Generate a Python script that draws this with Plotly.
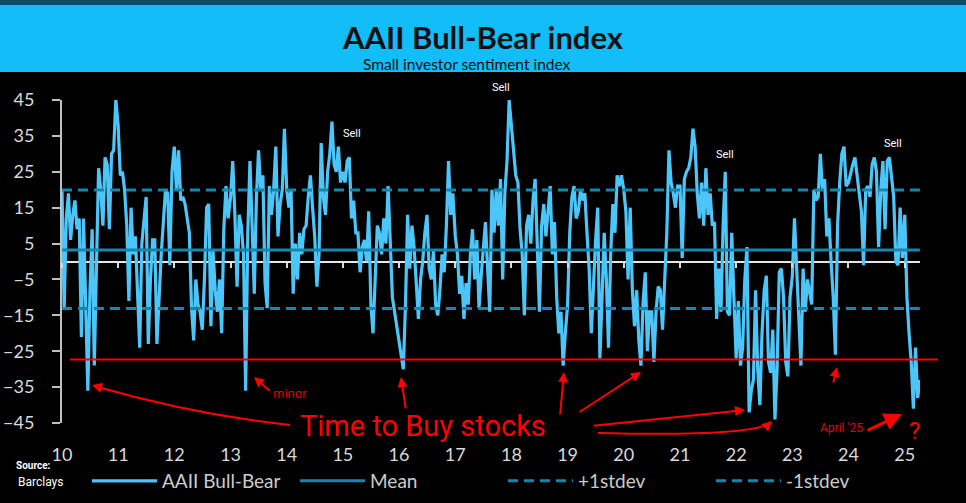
import plotly.graph_objects as go
import pandas as pd

# AAII bull-bear spread, every two weeks
v2010 = [20, -13, 12, 19, 6, 13, 17, 9, 12, -21, 12, -9, -36, -8, 9, -29, 4, 26, 20, 10, 29, 27, 9, 30, 31, 45]
v2011 = [38, 24, 25, 20, 10, -11, 15, 2, 7, -8, -24, 5, 12, 18, -23, -5, 6, 6, -23, -10, 2, 11, 20, 19, -1, 25]
v2012 = [32, 20, 31, 17, 18, 16, 12, 8, -13, -22, -5, -12, -14, -19, -5, 15, 16, -18, 3, -8, -14, -5, -20, 9, 21, 12]
v2013 = [18, 28, 13, -7, 13, 10, 2, -36, 8, 28, 10, -9, 18, 31, 20, 24, -6, -13, 21, 13, 20, 32, 7, 16, 20, 37]
v2014 = [20, 15, 20, -9, 5, -5, 8, 2, 9, 10, 18, 24, 15, 7, -7, 2, 33, 18, 13, 25, 30, 39, 27, 25, 32, 22]
v2015 = [25, 22, 28, 29, 12, 17, 8, 8, -3, 4, 6, 0, 14, -12, -20, -3, 10, 8, 2, 12, 5, 21, 4, -10, -14, -18]
v2016 = [-22, -27, -30, -12, 13, -2, 10, 4, -8, -16, -5, 0, 8, 13, -2, -5, 3, -12, -15, -8, 2, -3, 10, 28, 13, 19]
v2017 = [7, 2, -9, -4, -16, -6, -12, 2, 9, -5, 6, -13, -4, 3, 11, -2, -14, 20, 8, 20, 10, 23, -5, 19, 28, 45]
v2018 = [38, 32, 24, 22, 9, 2, -15, 10, 13, 5, 17, 23, 2, -14, 10, 16, 7, 13, 21, 2, 11, -10, -20, -14, -29, -20]
v2019 = [-12, 8, 18, 21, 12, 14, 20, 17, 19, 8, -2, -20, -5, 6, 15, -27, -10, 8, -5, -24, 2, 16, 8, 24, 21, 24]
v2020 = [20, 14, -5, 15, -8, -18, -8, -22, -29, -11, -3, -25, -14, -14, -28, -14, -7, -8, -19, -5, 8, 31, 22, 19, 15, 21]
v2021 = [21, 1, 23, 25, 26, 29, 37, 32, 19, 12, 22, 10, 26, 13, 19, 10, 11, -16, -2, -14, 10, 25, -14, -15, 8, -10]
v2022 = [-27, -11, -29, -24, -5, 4, -42, -36, -33, -8, -30, -40, -20, -8, -4, -28, -31, -19, -44, -30, -3, -2, -10, -28, -32, -10]
v2023 = [-4, 12, -1, -17, -29, -2, -14, -5, -9, -12, 20, 17, 18, 30, 20, 23, 7, 12, 0, -10, -26, 10, 22, 30, 32, 21]
v2024 = [22, 25, 27, 29, 24, 20, 14, -1, 20, 21, 18, 27, 29, 25, 4, 20, 28, 9, 28, 29, 24, 18, 0, -1, 15, 1]
v2025 = [13, -10, -20, -28, -41, -24, -38, -33]

years = {2010: v2010, 2011: v2011, 2012: v2012, 2013: v2013, 2014: v2014, 2015: v2015,
         2016: v2016, 2017: v2017, 2018: v2018, 2019: v2019, 2020: v2020, 2021: v2021,
         2022: v2022, 2023: v2023, 2024: v2024, 2025: v2025}

mean_level = 3.2
plus_sd = 19.9
minus_sd = -13.1
buy_level = -27.3

dates, values = [], []
for yr, vals in years.items():
    for k, v in enumerate(vals):
        dates.append(pd.Timestamp(f"{yr}-01-01") + pd.Timedelta(days=14 * k))
        values.append(v)

FONT = "Lato, sans-serif"
NOTE = "Roboto, sans-serif"
LIGHT = "#4cc6f8"
TEAL = "#1786ad"
RED = "#ff0000"

# plot area in pixels (used to place the hand-drawn notes)
L, T, PW, PH = 62, 100, 858, 323


def px(x, y):
    return (x - L) / PW, (T + PH - y) / PH


fig = go.Figure()
fig.add_trace(go.Scatter(x=dates, y=values, mode="lines", name="AAII Bull-Bear",
                         line=dict(color=LIGHT, width=3.2)))
ends = [dates[0], dates[-1]]
fig.add_trace(go.Scatter(x=ends, y=[mean_level] * 2, mode="lines", name="Mean",
                         line=dict(color=TEAL, width=3)))
fig.add_trace(go.Scatter(x=ends, y=[plus_sd] * 2, mode="lines", name="+1stdev",
                         line=dict(color=TEAL, width=3, dash="10px,6px")))
fig.add_trace(go.Scatter(x=ends, y=[minus_sd] * 2, mode="lines", name="-1stdev",
                         line=dict(color=TEAL, width=3, dash="10px,6px")))

shapes = []
# banner
x0b, _ = px(0, 0)
x1b, _ = px(966, 0)
shapes.append(dict(type="rect", xref="paper", yref="paper", x0=x0b, x1=x1b,
                   y0=px(0, 72)[1], y1=px(0, 5)[1], fillcolor="#12bdf8", line_width=0))
shapes.append(dict(type="rect", xref="paper", yref="paper", x0=x0b, x1=x1b,
                   y0=px(0, 5)[1], y1=px(0, 0)[1], fillcolor="#0c4d68", line_width=0))
# red buy line
shapes.append(dict(type="line", xref="paper", yref="y", x0=px(70, 0)[0], x1=px(938, 0)[0],
                   y0=buy_level, y1=buy_level, line=dict(color=RED, width=2)))


def curve(p0, c, p2):
    a, b = px(*p0)
    cx, cy = px(*c)
    d, e = px(*p2)
    return dict(type="path", xref="paper", yref="paper",
                path=f"M {a},{b} Q {cx},{cy} {d},{e}", line=dict(color=RED, width=2))


shapes.append(curve((290, 425), (195, 415), (94, 386)))
shapes.append(curve((598, 433), (755, 437), (771, 422)))

annotations = []


def note(text, x, y, size, color, bold=False, family=NOTE):
    ax_, ay_ = px(x, y)
    annotations.append(dict(text=f"<b>{text}</b>" if bold else text, x=ax_, y=ay_,
                            xref="paper", yref="paper", showarrow=False,
                            xanchor="center", yanchor="middle",
                            font=dict(family=family, size=size, color=color)))


def arrow(tip, tail, width=2, size=1.0):
    tx, ty = px(*tip)
    annotations.append(dict(text="", x=tx, y=ty, xref="paper", yref="paper",
                            showarrow=True, ax=tail[0] - tip[0], ay=tail[1] - tip[1],
                            arrowhead=2, arrowsize=size, arrowwidth=width, arrowcolor=RED))


for sx, sy in [(352, 133), (501, 87), (725, 154), (893, 143)]:
    note("Sell", sx, sy, 11, "white")

note("Time to Buy stocks", 423, 426, 29, RED)
note("minor", 290, 393, 13, "#e00000")
note("April '25", 841, 428, 12, "#e00000")
note("?", 914, 431, 24, RED)
note("Small investor sentiment index", 467, 64, 15.5, "#111111", family=FONT)
note("Source:", 33, 465, 10, "white", bold=True)
note("Barclays", 40, 482, 12, "white")

arrow((92, 385), (103.5, 388.4))
arrow((772, 421), (764.7, 427.9))
arrow((401, 377), (406, 410))
arrow((564, 372), (560, 416))
arrow((641, 372), (578, 413))
arrow((745, 410), (592, 426))
arrow((837, 367), (833, 384))
arrow((254, 377), (271, 392))
arrow((902, 414), (866, 431), width=3, size=1.2)

fig.update_layout(
    width=966, height=503,
    margin=dict(l=L, r=966 - L - PW, t=T, b=503 - T - PH, autoexpand=False),
    paper_bgcolor="black", plot_bgcolor="black",
    title=dict(text="<b>AAII Bull-Bear index</b>", x=0.5, xanchor="center",
               y=1 - 38 / 503, yanchor="middle",
               font=dict(family=FONT, size=31, color="#111111")),
    font=dict(family=FONT, color="#d9d9d9"),
    showlegend=True,
    legend=dict(orientation="h", x=px(87, 0)[0], xanchor="left", y=px(0, 481)[1], yanchor="middle",
                itemwidth=65, entrywidth=128, entrywidthmode="pixels",
                font=dict(size=19, color="#cccccc"), bgcolor="rgba(0,0,0,0)"),
    shapes=shapes,
    annotations=annotations,
    xaxis=dict(type="date", range=["2010-01-01", "2025-04-10"], tick0="2010-01-01", dtick="M12",
               tickformat="%y", showgrid=False, zeroline=False, showline=False, ticks="",
               automargin=False, ticklabelstandoff=19, tickfont=dict(size=18, color="#d9d9d9")),
    xaxis2=dict(overlaying="x", matches="x", anchor="free", position=0.5, side="bottom",
                showticklabels=False, showgrid=False, ticks="outside", ticklen=5,
                tickwidth=2, tickcolor="#d9d9d9", tick0="2010-01-01", dtick="M12",
                showline=False, zeroline=False, automargin=False),
    yaxis=dict(range=[-45, 45], tickvals=list(range(-45, 46, 10)), showgrid=False,
               zeroline=True, zerolinecolor="#e6e6e6", zerolinewidth=2,
               showline=True, linecolor="#bfbfbf", linewidth=2, automargin=False,
               ticks="outside", ticklen=8, tickwidth=2, tickcolor="#bfbfbf",
               ticklabelstandoff=14, tickfont=dict(size=18, color="#d9d9d9")),
)

# empty trace on the second x axis so its ticks get drawn on the zero line
fig.add_trace(go.Scatter(x=ends, y=[None, None], xaxis="x2", showlegend=False, hoverinfo="skip"))

# drop the page's default 8px body margin so the figure sits at the window corner
fig.write_html("out.html", config={"displayModeBar": False},
               post_script="document.body.style.margin='0';document.body.style.background='black';")
